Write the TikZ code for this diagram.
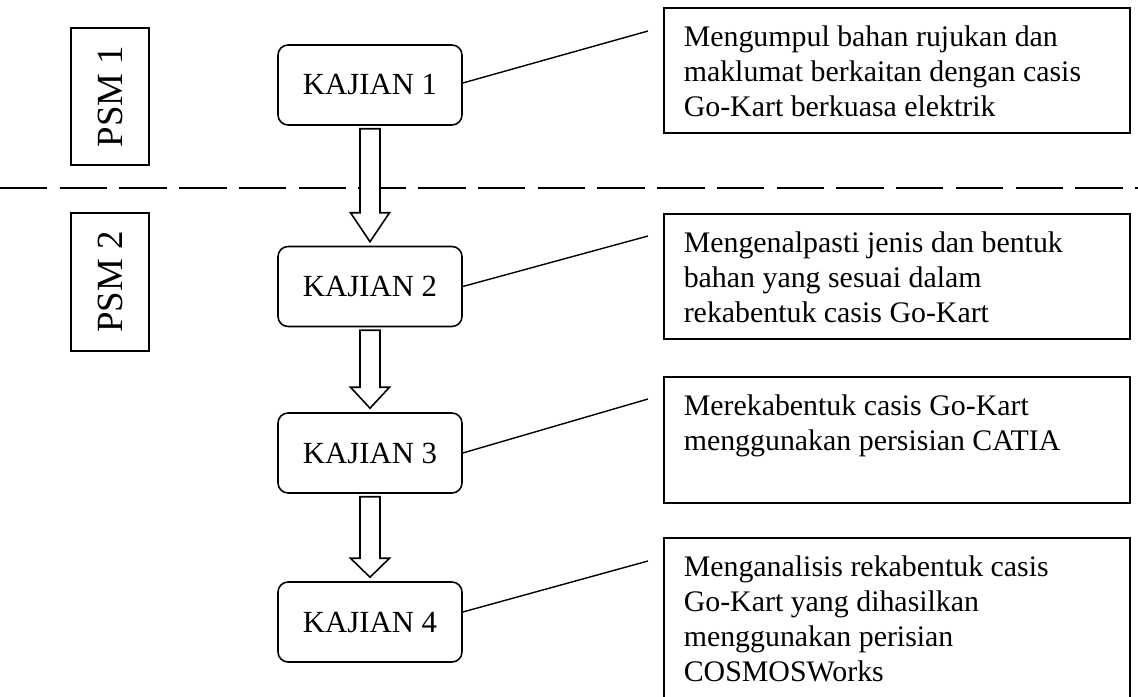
\documentclass[tikz,border=0pt]{standalone}
\usepackage{fontspec}
\setmainfont{Liberation Serif}
\usetikzlibrary{calc}

\begin{document}
\begin{tikzpicture}[
    x=0.02cm, y=-0.02cm,
    stagebox/.style={rectangle, draw, line width=0.9pt, rounded corners=0.2cm, minimum width=3.68cm, minimum height=1.6cm, font=\fontsize{17.5}{20}\selectfont},
    descbox/.style={rectangle, draw, line width=0.9pt, anchor=north west, inner xsep=0.4cm, inner ysep=0.36cm, font=\fontsize{17}{20}\selectfont},
    psmbox/.style={rectangle, draw, line width=0.9pt, rotate=90, minimum height=1.56cm, font=\fontsize{21}{24}\selectfont},
    link/.style={line width=0.8pt},
    blockarr/.style={draw, fill=white, line width=0.9pt, line join=miter},
    split/.style={line width=0.7pt, dash pattern=on 27pt off 7pt},
]
\useasboundingbox (0,0) rectangle (1138,696);

% ========== PSM LABELS (left column) ==========
\node[psmbox, minimum width=2.74cm] at (110,96.5) (psm1) {PSM 1};
\node[psmbox, minimum width=2.76cm] at (110,282) (psm2) {PSM 2};

% dashed divider between PSM 1 and PSM 2
\draw[split] (0,188) -- (1138,188);

% ========== STAGES (centre column) ==========
\node[stagebox] at (370,85) (k1) {KAJIAN 1};
\node[stagebox] at (370,286.5) (k2) {KAJIAN 2};
\node[stagebox] at (370,453) (k3) {KAJIAN 3};
\node[stagebox] at (370,622) (k4) {KAJIAN 4};

% ========== DESCRIPTIONS (right column) ==========
\node[descbox] at (663,7) (d1) {\parbox[c][1.78cm][t]{8.52cm}{\raggedright
    Mengumpul bahan rujukan dan\\ maklumat berkaitan dengan casis\\ Go-Kart berkuasa elektrik}};
\node[descbox] at (663,213) (d2) {\parbox[c][1.78cm][t]{8.52cm}{\raggedright
    Mengenalpasti jenis dan bentuk\\ bahan yang sesuai dalam\\ rekabentuk casis Go-Kart}};
\node[descbox] at (663,376) (d3) {\parbox[c][1.80cm][t]{8.52cm}{\raggedright
    Merekabentuk casis Go-Kart\\ menggunakan persisian CATIA}};
\node[descbox] at (663,537) (d4) {\parbox[c][2.68cm][t]{8.52cm}{\raggedright
    Menganalisis rekabentuk casis\\ Go-Kart yang dihasilkan\\ menggunakan perisian\\ COSMOSWorks}};

% free ends of the leader lines, just left of each description
\coordinate (e1) at ($(d1.north west)+(-15,24)$);
\coordinate (e2) at ($(d2.north west)+(-15,23)$);
\coordinate (e3) at ($(d3.north west)+(-15,23)$);
\coordinate (e4) at ($(d4.north west)+(-15,24)$);

% ========== CONNECTIONS ==========
\draw[link] ([yshift=0.04cm]k1.east) -- (e1);
\draw[link] (k2.east) -- (e2);
\draw[link] (k3.east) -- (e3);
\draw[link] ([yshift=0.2cm]k4.east) -- (e4);

% hollow block arrows between stages (drawn over the divider)
\foreach \a/\b/\h in {k1/k2/29, k2/k3/21, k3/k4/19}
    \draw[blockarr] ($(\a.south)+(-10,3)$) -- ($(\b.north)+(-10,-4-\h)$) -- ++(-9.5,0)
        -- ($(\b.north)+(0,-4)$) -- ($(\b.north)+(19.5,-4-\h)$) -- ++(-9.5,0)
        -- ($(\a.south)+(10,3)$) -- cycle;

\end{tikzpicture}
\end{document}
